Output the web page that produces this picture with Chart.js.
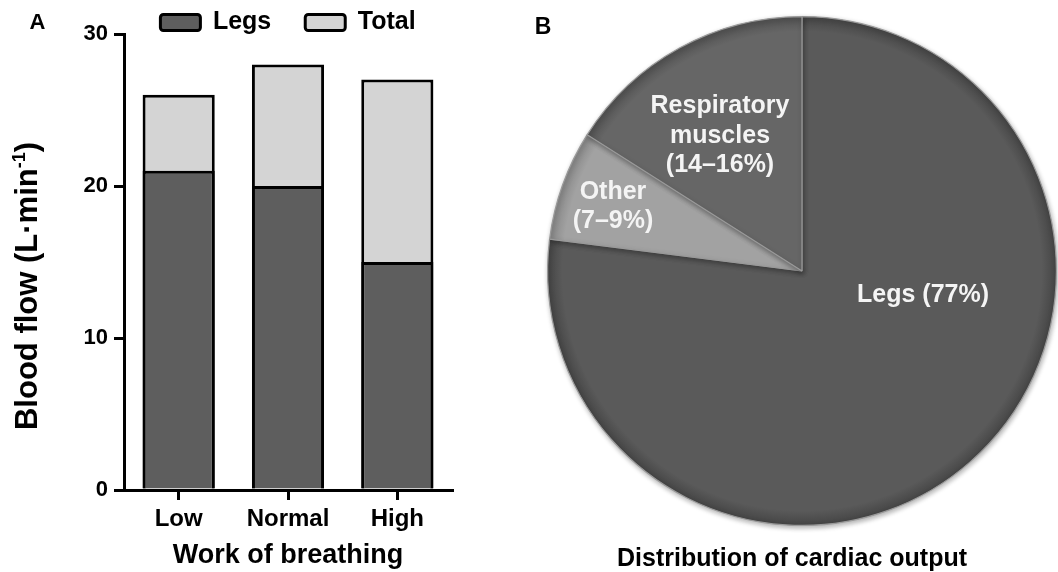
<!DOCTYPE html>
<html><head><meta charset="utf-8">
<script src="https://cdn.jsdelivr.net/npm/chart.js@4.4.1/dist/chart.umd.min.js"></script>
<style>
html,body{margin:0;padding:0;background:#fff;width:1058px;height:572px;overflow:hidden;}
#barWrap{position:absolute;left:0;top:0;width:470px;height:572px;}
#pieWrap{position:absolute;left:470px;top:0;width:588px;height:572px;}
canvas{display:block;}
</style></head><body>
<div id="barWrap"><canvas id="bar" width="470" height="572"></canvas></div>
<div id="pieWrap"><canvas id="pie" width="588" height="572"></canvas></div>
<script>
// ---- data ----
const categories = ['Low', 'Normal', 'High'];
const legsFlow = [21, 20, 15];
const totalFlow = [26, 28, 27];
const yTicks = [0, 10, 20, 30];
const pieLabels = ['Legs', 'Other', 'Respiratory muscles'];
const pieShares = [77, 7, 16];
const pieText = [['Legs (77%)'], ['Other', '(7–9%)'], ['Respiratory', 'muscles', '(14–16%)']];

// ---- styles ----
const FONT = '"Liberation Sans", Arial, Helvetica, sans-serif';
const LEGS_COLOR = '#5e5e5e';
const TOTAL_COLOR = '#d4d4d4';
const PIE_BASE = ['#5a5a5a', '#a2a2a2', '#666666'];
const PIE_RIM = ['#444444', '#858585', '#505050'];
// label anchor points for the pie (page offsets relative to pie centre, baselines)
const PIE_LABEL_POS = [
  {dx: 121, base: [31]},
  {dx: -189, base: [-72, -43]},
  {dx: -82, base: [-158, -128, -99]}
];

const legendPlace = {
  id: 'legendPlace',
  afterLayout(chart) {
    const lg = chart.legend;
    const h = lg.height;
    lg.top = -24; lg.bottom = lg.top + h;
    lg.left += 0; lg.right += 0;
  }
};

const barDeco = {
  id: 'barDeco',
  afterDraw(chart) {
    const c = chart.ctx;
    c.save();
    c.fillStyle = '#000';
    c.textAlign = 'center';
    c.textBaseline = 'alphabetic';
    c.font = 'bold 22px ' + FONT;
    c.fillText('A', 37.5, 29);
    // y axis title with superscript
    c.translate(37, 286);
    c.rotate(-Math.PI / 2);
    c.textAlign = 'left';
    const main = 'Blood flow (L·min', sup = '-1', close = ')';
    c.font = 'bold 31px ' + FONT; const w1 = c.measureText(main).width; const w3 = c.measureText(close).width;
    c.font = 'bold 18px ' + FONT; const w2 = c.measureText(sup).width;
    let x = -(w1 + w2 + w3) / 2;
    c.font = 'bold 31px ' + FONT; c.fillText(main, x, 0); x += w1;
    c.font = 'bold 18px ' + FONT; c.fillText(sup, x, -12); x += w2;
    c.font = 'bold 31px ' + FONT; c.fillText(close, x, 0);
    c.restore();
  }
};

new Chart(document.getElementById('bar'), {
  type: 'bar',
  data: {
    labels: categories,
    datasets: [
      {label: 'Legs', data: legsFlow, backgroundColor: LEGS_COLOR, borderColor: '#000', borderWidth: 3,
       grouped: false, barPercentage: 0.66, categoryPercentage: 1, borderSkipped: 'start'},
      {label: 'Total', data: totalFlow, backgroundColor: TOTAL_COLOR, borderColor: '#000', borderWidth: 3,
       grouped: false, barPercentage: 0.66, categoryPercentage: 1, borderSkipped: 'start'}
    ]
  },
  options: {
    responsive: false, animation: false, devicePixelRatio: 1,
    layout: {padding: {left: 0, right: 18, top: -35, bottom: 0}},
    plugins: {
      legend: {
        position: 'top', fullSize: false, align: 'center',
        labels: {boxWidth: 40, boxHeight: 16, padding: 34, color: '#000',
          font: {family: FONT, size: 25, weight: 'bold'}, useBorderRadius: true, borderRadius: 3}
      },
      tooltip: {enabled: false}
    },
    scales: {
      x: {
        grid: {display: true, drawOnChartArea: false, drawTicks: true, tickLength: 10, color: '#000', lineWidth: 3, offset: false},
        border: {color: '#000', width: 3},
        ticks: {color: '#000', font: {family: FONT, size: 24, weight: 'bold'}, padding: 5},
        title: {display: true, text: 'Work of breathing', color: '#000', font: {family: FONT, size: 27, weight: 'bold'}, padding: {top: 0, bottom: 0}},
        afterFit(s) { s.height = 82; }
      },
      y: {
        min: 0, max: 30,
        afterBuildTicks(s) { s.ticks = yTicks.map(v => ({value: v})); },
        grid: {display: true, drawOnChartArea: false, drawTicks: true, tickLength: 10, color: '#000', lineWidth: 3},
        border: {color: '#000', width: 3},
        ticks: {color: '#000', font: {family: FONT, size: 22, weight: 'bold'}, padding: 6},
        afterFit(s) { s.width = 124; }
      }
    }
  },
  plugins: [legendPlace, barDeco]
});

function shade(ctx) {
  const i = ctx.dataIndex;
  const chart = ctx.chart;
  const a = chart.chartArea;
  if (!a) return PIE_BASE[i];
  const cx = (a.left + a.right) / 2, cy = (a.top + a.bottom) / 2, r = Math.min(a.width, a.height) / 2;
  const g = chart.ctx.createRadialGradient(cx, cy, 0, cx, cy, r);
  g.addColorStop(0, PIE_BASE[i]);
  g.addColorStop(0.94, PIE_BASE[i]);
  g.addColorStop(1, PIE_RIM[i]);
  return g;
}

const pieShadow = {
  id: 'pieShadow',
  beforeDatasetsDraw(chart) {
    const c = chart.ctx;
    c.save();
    c.shadowColor = 'rgba(0,0,0,0.3)';
    c.shadowBlur = 5;
    c.shadowOffsetX = 1;
    c.shadowOffsetY = 2;
  },
  afterDatasetsDraw(chart) { chart.ctx.restore(); }
};

const pieDeco = {
  id: 'pieDeco',
  afterDraw(chart) {
    const c = chart.ctx;
    const arc = chart.getDatasetMeta(0).data[0];
    const cx = arc.x, cy = arc.y;
    c.save();
    c.textAlign = 'center';
    c.textBaseline = 'alphabetic';
    c.fillStyle = '#f4f4f4';
    c.font = 'bold 25px ' + FONT;
    pieText.forEach((lines, i) => {
      const p = PIE_LABEL_POS[i];
      lines.forEach((t, k) => c.fillText(t, cx + p.dx, cy + p.base[k]));
    });
    c.fillStyle = '#000';
    c.font = 'bold 23px ' + FONT;
    c.fillText('B', 73, 33.5);
    c.font = 'bold 25px ' + FONT;
    c.fillText('Distribution of cardiac output', 322, 566);
    c.restore();
  }
};

new Chart(document.getElementById('pie'), {
  type: 'pie',
  data: {
    labels: pieLabels,
    datasets: [{data: pieShares, backgroundColor: shade, borderColor: '#9a9a9a', borderWidth: 1.2}]
  },
  options: {
    responsive: false, animation: false, devicePixelRatio: 1,
    layout: {padding: {left: 77, right: 1, top: 16, bottom: 46}},
    plugins: {legend: {display: false}, tooltip: {enabled: false}}
  },
  plugins: [pieShadow, pieDeco]
});
</script>
</body></html>
